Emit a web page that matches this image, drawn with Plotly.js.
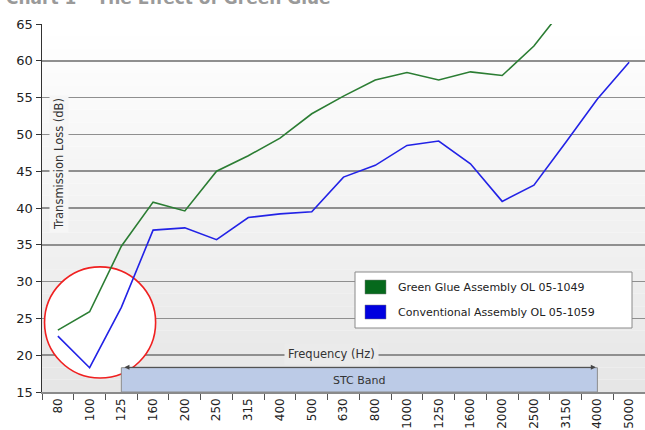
<!DOCTYPE html>
<html>
<head>
<meta charset="utf-8">
<script src="https://cdn.plot.ly/plotly-3.0.1.min.js"></script>
<style>html,body{margin:0;padding:0;background:#fff;}#chart{width:645px;height:430px;}</style>
</head>
<body>
<div id="chart"></div>
<script>
// ---- data ----
var frequencies = ['80','100','125','160','200','250','315','400','500','630','800','1000','1250','1600','2000','2500','3150','4000','5000'];
var greenGlue = [23.4, 25.9, 34.8, 40.8, 39.6, 45.0, 47.1, 49.5, 52.8, 55.2, 57.4, 58.4, 57.4, 58.5, 58.0, 62.0, 67.5, null, null];
var conventional = [22.6, 18.3, 26.5, 37.0, 37.3, 35.7, 38.7, 39.2, 39.5, 44.2, 45.8, 48.5, 49.1, 46.0, 40.9, 43.1, 48.9, 54.8, 59.8];
var seriesNames = ['Green Glue Assembly OL 05-1049', 'Conventional Assembly OL 05-1059'];
var lineColors = ['#2b7d33', '#2222e6'];
var swatchColors = ['#06691c', '#0000e0'];
var yTicks = [15, 20, 25, 30, 35, 40, 45, 50, 55, 60, 65];
var stcBand = {from: '125', to: '4000', top: 18.3, label: 'STC Band'};
var titleText = 'Chart 1 \u2013 The Effect of Green Glue';

var M = {l: 42, r: 0, t: 24, b: 38};
var W = 645, H = 430;
var pw = W - M.l - M.r, ph = H - M.t - M.b;
function px(x){ return (x - M.l) / pw; }
function py(y){ return (H - M.b - y) / ph; }

var traces = [
  {x: frequencies, y: greenGlue, type: 'scatter', mode: 'lines', name: seriesNames[0],
   line: {color: lineColors[0], width: 1.6}, connectgaps: false, showlegend: false},
  {x: frequencies, y: conventional, type: 'scatter', mode: 'lines', name: seriesNames[1],
   line: {color: lineColors[1], width: 1.6}, showlegend: false}
];

var shapes = [];
// vertical background gradient (white to light grey)
var N = 30;
for (var i = 0; i < N; i++) {
  var t = (i + 0.5) / N; // 0 bottom -> 1 top
  var c = Math.round(0xe6 + (0xff - 0xe6) * t);
  var col = 'rgb(' + c + ',' + c + ',' + c + ')';
  shapes.push({type: 'rect', xref: 'paper', yref: 'paper', x0: 0, x1: 1, y0: i / N, y1: (i + 1) / N,
    fillcolor: col, line: {width: 0}, layer: 'below'});
}
var iFrom = frequencies.indexOf(stcBand.from), iTo = frequencies.indexOf(stcBand.to);
// red circle
shapes.push({type: 'circle', xref: 'x', yref: 'y', x0: -0.42, x1: 3.08, y0: 16.9, y1: 32.0,
  fillcolor: '#ffffff', line: {color: '#f02020', width: 1.6}, layer: 'between'});
// STC band
shapes.push({type: 'rect', xref: 'x', yref: 'y', x0: iFrom, x1: iTo, y0: 15, y1: stcBand.top,
  fillcolor: '#bccbe7', line: {color: '#8c8c8c', width: 1}, layer: 'above'});
// legend box
var lb = {x0: px(355), x1: px(632), y0: py(328), y1: py(272)};
shapes.push({type: 'rect', xref: 'paper', yref: 'paper', x0: lb.x0, x1: lb.x1, y0: lb.y0, y1: lb.y1,
  fillcolor: '#ffffff', line: {color: '#8a8a8a', width: 1}, layer: 'above'});
var rowY = [287, 312];
for (var k = 0; k < 2; k++) {
  shapes.push({type: 'rect', xref: 'paper', yref: 'paper', x0: px(365), x1: px(386),
    y0: py(rowY[k] + 7), y1: py(rowY[k] - 7), fillcolor: swatchColors[k],
    line: {color: '#7a7a7a', width: 0.5}, layer: 'above'});
}

var annotations = [
  {xref: 'paper', yref: 'paper', x: px(59), y: py(164), xanchor: 'center', yanchor: 'middle',
   text: 'Transmission Loss (dB)', textangle: -90,
   showarrow: false, font: {family: 'DejaVu Sans, sans-serif', size: 11.5, color: '#333'},
   bgcolor: '#f6f6f6', borderpad: 2},
  {xref: 'paper', yref: 'paper', x: px(331), y: py(354), xanchor: 'center', yanchor: 'middle',
   text: 'Frequency (Hz)', showarrow: false,
   font: {family: 'DejaVu Sans, sans-serif', size: 11.5, color: '#333'}, bgcolor: '#ebebeb', borderpad: 3},
  {xref: 'x', yref: 'y', x: (iFrom + iTo) / 2, y: (15 + stcBand.top) / 2 - 0.05, xanchor: 'center', yanchor: 'middle',
   text: stcBand.label, showarrow: false,
   font: {family: 'DejaVu Sans, sans-serif', size: 11, color: '#333'}},
  {xref: 'x', yref: 'y', axref: 'x', ayref: 'y', x: iTo - 0.05, y: stcBand.top + 0.05, ax: iFrom + 0.05, ay: stcBand.top + 0.05,
   text: '', showarrow: true, arrowhead: 2, arrowside: 'end+start', arrowsize: 1, arrowwidth: 1, arrowcolor: '#444',
   standoff: 0, startstandoff: 0},
  {xref: 'paper', yref: 'paper', x: px(4), y: py(10), xanchor: 'left', yanchor: 'bottom', text: '<b>' + titleText + '</b>',
   showarrow: false, font: {family: 'DejaVu Sans, sans-serif', size: 17, color: '#9a9a9a'}}
];
for (var k = 0; k < 2; k++) {
  annotations.push({xref: 'paper', yref: 'paper', x: px(396), y: py(rowY[k]), xanchor: 'left', yanchor: 'middle',
    text: seriesNames[k], showarrow: false, font: {family: 'DejaVu Sans, sans-serif', size: 11, color: '#222'}});
}

var layout = {
  width: W, height: H,
  margin: M,
  paper_bgcolor: '#ffffff',
  plot_bgcolor: 'rgba(0,0,0,0)',
  showlegend: false,
  xaxis: {
    type: 'category', tickangle: -90, tickson: 'boundaries', ticks: 'outside', ticklen: 6,
    tickcolor: '#555', tickwidth: 1, showgrid: false, showline: true, linecolor: '#8a8a8a', linewidth: 1.5,
    tickfont: {family: 'DejaVu Sans, sans-serif', size: 12, color: '#222'}, zeroline: false,
    range: [-0.5, frequencies.length - 0.5], fixedrange: true
  },
  yaxis: {
    range: [15, 65], tickvals: yTicks, ticktext: yTicks.map(String), ticks: 'outside', ticklen: 5,
    tickcolor: '#333', showline: true, linecolor: '#333', linewidth: 1.5,
    showgrid: true, gridcolor: '#8f8f8f', gridwidth: 1.5, zeroline: false,
    tickfont: {family: 'DejaVu Sans, sans-serif', size: 13, color: '#222'}, fixedrange: true
  },
  shapes: shapes,
  annotations: annotations
};

Plotly.newPlot('chart', traces, layout, {displayModeBar: false, staticPlot: true});
</script>
</body>
</html>
